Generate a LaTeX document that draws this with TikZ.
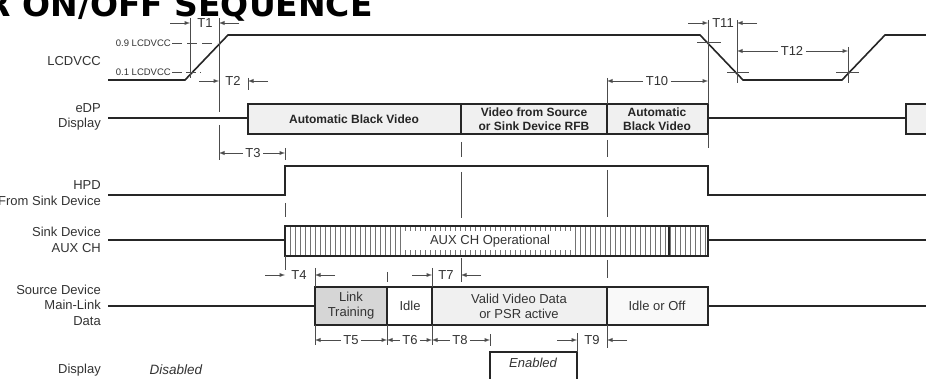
\documentclass[tikz,border=0pt]{standalone}
\usepackage{fontspec}
\setmainfont{Liberation Sans}
\newfontfamily\titlefont{DejaVu Sans}
\usetikzlibrary{arrows}
\def\sigx{101}
\def\tdist{20}
\begin{document}
\begin{tikzpicture}[x=1pt,y=-1pt,>=latex]
            \tikzstyle{wave}=[line width=1.6pt,black!85]
            \tikzstyle{marker}=[line width=0.9pt,black!70]
            \tikzstyle{tip}=[->,marker]
            \tikzstyle{hatch}=[line width=0.6pt,black!55]
            \tikzstyle{sig}=[anchor=east,align=right,inner sep=0pt,black!80,font=\fontsize{13}{15.5}\selectfont]
            \tikzstyle{tlabel}=[inner sep=2.5pt,black!80,font=\fontsize{13}{15}\selectfont]
            \tikzstyle{level}=[anchor=east,inner sep=1pt,black!80,font=\fontsize{9.5}{10}\selectfont]
            \tikzstyle{boxtext}=[align=center,inner sep=0pt,black!85,font=\bfseries\fontsize{12}{14}\selectfont]
            \tikzstyle{datatext}=[align=center,inner sep=0pt,black!80,font=\fontsize{13}{15}\selectfont]

            \useasboundingbox (0,0) rectangle (926,379);
            \fill[white] (0,0) rectangle (926,379);

            % Heading, cut off by the page edge
            \node[anchor=base east,inner sep=0pt,text depth=0pt,font=\titlefont\bfseries\fontsize{33}{33}\selectfont] (title) at (373,17) {POWER ON/OFF SEQUENCE};

            % Timing edges
            \foreach \name/\x in {A/190,B/219,C/248,D/285,E/315,F/387,G/432,H/461,I/490,J/577,K/607,L/708,M/737,N/848}
                \coordinate (v\name) at (\x,0);

            % Signal names
            \node[sig] (lcd) at (\sigx,61) {LCDVCC};
            \node[sig] (edp) at (\sigx,117) {eDP\\Display};
            \node[sig] (hpd) at (\sigx,193) {HPD\\From Sink Device};
            \node[sig] (aux) at (\sigx,240) {Sink Device\\AUX CH};
            \node[sig] (src) at (\sigx,305) {Source Device\\Main-Link\\Data};
            \node[sig] (disp) at (\sigx,370) {Display};

            % LCDVCC
            \draw[wave] (108,80) -- (185,80) -- (228,35) -- (700,35) -- (743,80) -- (842,80) -- (885,35) -- (930,35);
            \node[level] (v90) at (172,43) {0.9 LCDVCC};
            \node[level] (v10) at (172,72) {0.1 LCDVCC};
            \draw[marker,dash pattern=on 10pt off 5pt] (v90.east) -- (217,43);
            \draw[marker,dash pattern=on 10pt off 4pt] (v10.east) -- (201,72);
            \draw[marker] (697,42) -- (721,42);
            \draw[marker] (727,72) -- (749,72);
            \draw[marker] (836,72) -- (859,72);

            % eDP Display
            \draw[wave] (108,118) -- (248,118);
            \draw[wave,fill=gray!12] (248,104) rectangle (708,134);
            \draw[wave] (461,104) -- (461,134);
            \draw[wave] (607,104) -- (607,134);
            \draw[wave] (708,118) -- (906,118);
            \draw[wave,fill=gray!12] (935,104) -- (906,104) -- (906,134) -- (935,134);
            \node[boxtext] (abv1) at (354,119) {Automatic Black Video};
            \node[boxtext] (vsrc) at (534,119) {Video from Source\\or Sink Device RFB};
            \node[boxtext] (abv2) at (657,119) {Automatic\\Black Video};

            % HPD
            \draw[wave] (108,195) -- (285,195) -- (285,166) -- (708,166) -- (708,195) -- (930,195);

            % AUX CH
            \draw[wave] (108,240) -- (285,240);
            \draw[wave,fill=white] (285,226) rectangle (708,256);
            \foreach \x in {290,295,...,705}
                \draw[hatch] (\x,227) -- (\x,255);
            \draw[wave] (669,226) -- (669,256);
            \node[datatext,fill=white,minimum width=170pt,minimum height=19pt] (auxop) at (490,241) {AUX CH Operational};
            \draw[wave] (285,226) rectangle (708,256);
            \draw[wave] (708,240) -- (930,240);

            % Main-Link
            \draw[wave] (108,306) -- (315,306);
            \draw[wave,fill=gray!32] (315,287) rectangle (387,325);
            \draw[wave,fill=white] (387,287) rectangle (432,325);
            \draw[wave,fill=gray!12] (432,287) rectangle (607,325);
            \draw[wave,fill=gray!5] (607,287) rectangle (708,325);
            \draw[wave] (708,306) -- (930,306);
            \node[datatext] (lt) at (351,306) {Link\\Training};
            \node[datatext] (idle) at (410,306) {Idle};
            \node[datatext] (vvd) at (519,306) {Valid Video Data\\or PSR active};
            \node[datatext] (off) at (657,306) {Idle or Off};

            % Display
            \node[datatext,font=\itshape\fontsize{13.5}{15}\selectfont] (dis) at (176,370) {Disabled};
            \draw[wave] (490,385) -- (490,352) -- (577,352) -- (577,385);
            \node[datatext,font=\itshape\fontsize{13}{15}\selectfont] (ena) at (533,363) {Enabled};

            % Marker lines
            \foreach \x/\ya/\yb in {190/18/78, 219/18/112, 219/125/160, 248/78/90, 285/148/160,
                                    285/203/217, 285/256/270, 315/268/287, 315/325/345, 387/272/282,
                                    387/325/345, 432/268/287, 432/325/345, 461/142/157, 461/172/218,
                                    461/258/282, 490/334/346, 577/333/352, 607/78/104, 607/140/157,
                                    607/170/217, 607/260/278, 607/325/348, 708/20/104, 708/134/148,
                                    737/20/83, 848/47/83}
                \draw[marker] (\x,\ya) -- (\x,\yb);

            % Inward timing labels
            \node[tlabel] (T1) at (205,23) {T1};
            \draw[tip] (T1.west -| vA) +(-\tdist,0) -- (T1.west -| vA);
            \draw[tip] (T1.east -| vB) +(\tdist,0) -- (T1.east -| vB);
            \node[tlabel] (T2) at (233,81) {T2};
            \draw[tip] (T2.west -| vB) +(-\tdist,0) -- (T2.west -| vB);
            \draw[tip] (T2.east -| vC) +(\tdist,0) -- (T2.east -| vC);
            \node[tlabel] (T4) at (299,275) {T4};
            \draw[tip] (T4.west -| vD) +(-\tdist,0) -- (T4.west -| vD);
            \draw[tip] (T4.east -| vE) +(\tdist,0) -- (T4.east -| vE);
            \node[tlabel] (T7) at (446,275) {T7};
            \draw[tip] (T7.west -| vG) +(-\tdist,0) -- (T7.west -| vG);
            \draw[tip] (T7.east -| vH) +(\tdist,0) -- (T7.east -| vH);
            \node[tlabel] (T9) at (592,340) {T9};
            \draw[tip] (T9.west -| vJ) +(-\tdist,0) -- (T9.west -| vJ);
            \draw[tip] (T9.east -| vK) +(\tdist,0) -- (T9.east -| vK);
            \node[tlabel] (T11) at (723,23) {T11};
            \draw[tip] (T11.west -| vL) +(-\tdist,0) -- (T11.west -| vL);
            \draw[tip] (T11.east -| vM) +(\tdist,0) -- (T11.east -| vM);

            % Outward timing labels
            \node[tlabel] (T3) at (253,153) {T3};
            \draw[tip] (T3.west) -- (T3.west -| vB);
            \draw[tip] (T3.east) -- (T3.east -| vD);
            \node[tlabel] (T5) at (351,340) {T5};
            \draw[tip] (T5.west) -- (T5.west -| vE);
            \draw[tip] (T5.east) -- (T5.east -| vF);
            \node[tlabel] (T6) at (410,340) {T6};
            \draw[tip] (T6.west) -- (T6.west -| vF);
            \draw[tip] (T6.east) -- (T6.east -| vG);
            \node[tlabel] (T8) at (460,340) {T8};
            \draw[tip] (T8.west) -- (T8.west -| vG);
            \draw[tip] (T8.east) -- (T8.east -| vI);
            \node[tlabel] (T10) at (657,81) {T10};
            \draw[tip] (T10.west) -- (T10.west -| vK);
            \draw[tip] (T10.east) -- (T10.east -| vL);
            \node[tlabel] (T12) at (792,51) {T12};
            \draw[tip] (T12.west) -- (T12.west -| vM);
            \draw[tip] (T12.east) -- (T12.east -| vN);
\end{tikzpicture}
\end{document}
